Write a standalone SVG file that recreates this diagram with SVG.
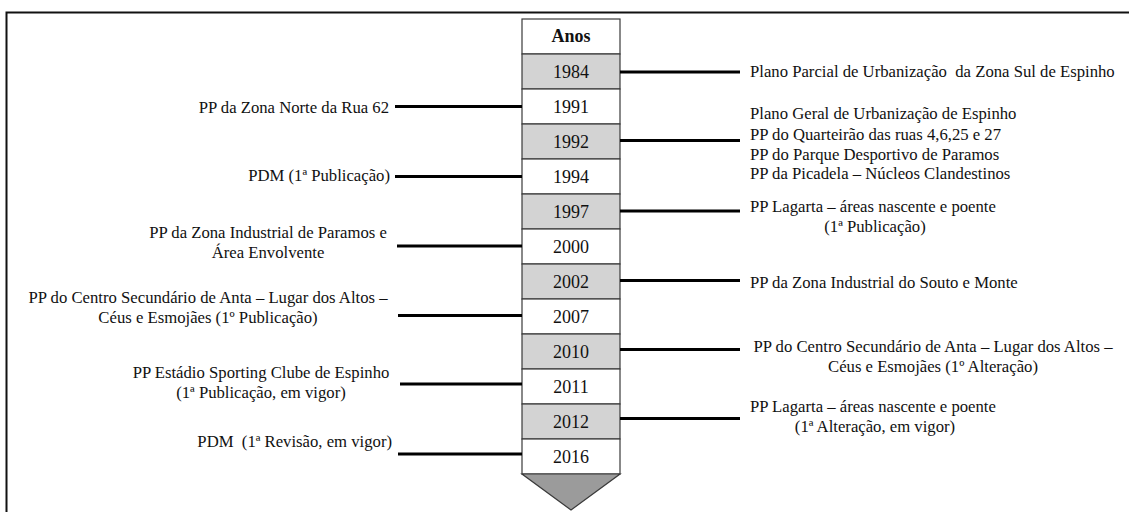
<svg xmlns="http://www.w3.org/2000/svg" width="1129" height="512" viewBox="0 0 1129 512">
<style>
.cell{stroke:#3a3a3a;stroke-width:1.2}
.w{fill:#ffffff}
.g{fill:#d3d3d3}
text{font-family:"Liberation Serif","Times New Roman",Tinos,"DejaVu Serif",serif;fill:#111}
.yr{font-size:18px;text-anchor:middle}
.hd{font-size:18px;font-weight:bold;text-anchor:middle}
.lb{font-size:16.7px;white-space:pre}
.e{text-anchor:end}
.m{text-anchor:middle}
.c{stroke:#000;stroke-width:3;fill:none}
.f{stroke:#111;stroke-width:2;fill:none}
</style>
<rect x="0" y="0" width="1129" height="512" fill="#ffffff"/>
<g id="frame">
<path class="f" d="M6.5,512 V12.5 H1129"/>
</g>
<g id="timeline">
<g id="hdr"><rect class="cell w" x="522" y="19" width="98" height="35"/><text class="hd" x="571" y="42">Anos</text></g>
<g id="y1984"><rect class="cell g" x="522" y="54" width="98" height="35"/><text class="yr" x="571" y="78">1984</text></g>
<g id="y1991"><rect class="cell w" x="522" y="89" width="98" height="35"/><text class="yr" x="571" y="113">1991</text></g>
<g id="y1992"><rect class="cell g" x="522" y="124" width="98" height="35"/><text class="yr" x="571" y="148">1992</text></g>
<g id="y1994"><rect class="cell w" x="522" y="159" width="98" height="35"/><text class="yr" x="571" y="183">1994</text></g>
<g id="y1997"><rect class="cell g" x="522" y="194" width="98" height="35"/><text class="yr" x="571" y="218">1997</text></g>
<g id="y2000"><rect class="cell w" x="522" y="229" width="98" height="35"/><text class="yr" x="571" y="253">2000</text></g>
<g id="y2002"><rect class="cell g" x="522" y="264" width="98" height="35"/><text class="yr" x="571" y="288">2002</text></g>
<g id="y2007"><rect class="cell w" x="522" y="299" width="98" height="35"/><text class="yr" x="571" y="323">2007</text></g>
<g id="y2010"><rect class="cell g" x="522" y="334" width="98" height="35"/><text class="yr" x="571" y="358">2010</text></g>
<g id="y2011"><rect class="cell w" x="522" y="369" width="98" height="35"/><text class="yr" x="571" y="393">2011</text></g>
<g id="y2012"><rect class="cell g" x="522" y="404" width="98" height="35"/><text class="yr" x="571" y="428">2012</text></g>
<g id="y2016"><rect class="cell w" x="522" y="439" width="98" height="35"/><text class="yr" x="571" y="463">2016</text></g>
<g id="arrow"><polygon class="cell" fill="#9b9b9b" points="522,474 620,474 571,510"/></g>
</g>
<g id="connectors">
<line class="c" x1="395" y1="106.5" x2="522" y2="106.5"/>
<line class="c" x1="395" y1="176.5" x2="522" y2="176.5"/>
<line class="c" x1="397" y1="246" x2="522" y2="246"/>
<line class="c" x1="398" y1="315.5" x2="522" y2="315.5"/>
<line class="c" x1="400" y1="384" x2="522" y2="384"/>
<line class="c" x1="398" y1="454" x2="522" y2="454"/>
<line class="c" x1="620" y1="72" x2="740" y2="72"/>
<line class="c" x1="620" y1="140.5" x2="740" y2="140.5"/>
<line class="c" x1="620" y1="211" x2="740" y2="211"/>
<line class="c" x1="620" y1="280.5" x2="740" y2="280.5"/>
<line class="c" x1="620" y1="349.5" x2="740" y2="349.5"/>
<line class="c" x1="620" y1="418.5" x2="740" y2="418.5"/>
</g>
<g id="l1991"><text class="lb e" x="389" y="113">PP da Zona Norte da Rua 62</text></g>
<g id="l1994"><text class="lb e" x="390" y="181">PDM (1ª Publicação)</text></g>
<g id="l2000"><text class="lb m" x="268" y="238">PP da Zona Industrial de Paramos e</text><text class="lb m" x="268" y="258">Área Envolvente</text></g>
<g id="l2007"><text class="lb m" x="208" y="303">PP do Centro Secundário de Anta – Lugar dos Altos –</text><text class="lb m" x="208" y="323">Céus e Esmojães (1º Publicação)</text></g>
<g id="l2011"><text class="lb m" x="261" y="378">PP Estádio Sporting Clube de Espinho</text><text class="lb m" x="261" y="398">(1ª Publicação, em vigor)</text></g>
<g id="l2016"><text class="lb e" x="392" y="447">PDM  (1ª Revisão, em vigor)</text></g>
<g id="r1984"><text class="lb" x="750" y="77">Plano Parcial de Urbanização  da Zona Sul de Espinho</text></g>
<g id="r1992"><text class="lb" x="750" y="119">Plano Geral de Urbanização de Espinho</text><text class="lb" x="750" y="140">PP do Quarteirão das ruas 4,6,25 e 27</text><text class="lb" x="750" y="160">PP do Parque Desportivo de Paramos</text><text class="lb" x="750" y="179">PP da Picadela – Núcleos Clandestinos</text></g>
<g id="r1997"><text class="lb" x="750" y="212">PP Lagarta – áreas nascente e poente</text><text class="lb m" x="875" y="232">(1ª Publicação)</text></g>
<g id="r2002"><text class="lb" x="750" y="288">PP da Zona Industrial do Souto e Monte</text></g>
<g id="r2010"><text class="lb m" x="933" y="352">PP do Centro Secundário de Anta – Lugar dos Altos –</text><text class="lb m" x="933" y="372">Céus e Esmojães (1º Alteração)</text></g>
<g id="r2012"><text class="lb" x="750" y="412">PP Lagarta – áreas nascente e poente</text><text class="lb m" x="875" y="432">(1ª Alteração, em vigor)</text></g>
</svg>
